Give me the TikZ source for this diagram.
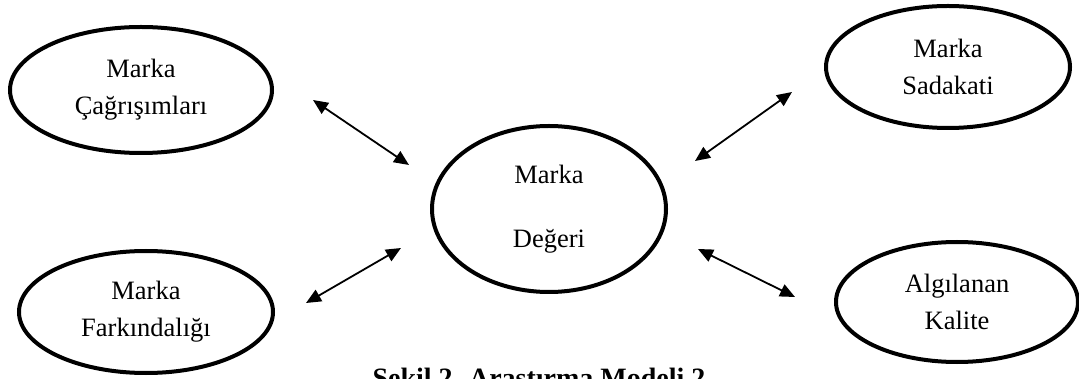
\documentclass[tikz,border=0pt]{standalone}
\usepackage{fontspec}
\setmainfont{Liberation Serif}
\usetikzlibrary{shapes.geometric,arrows.meta}
\begin{document}
\begin{tikzpicture}[x=1pt,y=-1pt,
  oval/.style={draw,ellipse,line width=4pt,inner sep=0pt,align=center,
    font=\fontsize{26.5}{37}\selectfont},
  link/.style={line width=1.8pt,{Triangle[length=15pt,width=13pt]}-{Triangle[length=15pt,width=13pt]}}]
\useasboundingbox (0,0) rectangle (1079,379);
\clip (0,0) rectangle (1079,379);
\node[oval,minimum width=262pt,minimum height=126pt] (cag) at (141,90) {Marka\\Çağrışımları};
\node[oval,minimum width=234pt,minimum height=166pt] (deg) at (549,209) {Marka\\[27pt]Değeri};
\node[oval,minimum width=244pt,minimum height=122pt] (sad) at (948,67) {Marka\\Sadakati};
\node[oval,minimum width=254pt,minimum height=122pt] (far) at (146,312) {Marka\\Farkındalığı};
\node[oval,minimum width=242pt,minimum height=120pt] (kal) at (957,302) {Algılanan\\Kalite};
\coordinate (a1) at (313,100); \coordinate (a2) at (409,165);
\coordinate (b1) at (306,303); \coordinate (b2) at (401,248);
\coordinate (c1) at (695,161); \coordinate (c2) at (792,92);
\coordinate (d1) at (698,249); \coordinate (d2) at (795,297);
\draw[link] (a1) -- (a2);
\draw[link] (b1) -- (b2);
\draw[link] (c1) -- (c2);
\draw[link] (d1) -- (d2);
\node[anchor=base,inner sep=0pt,font=\fontsize{28}{32}\selectfont\bfseries] (cap) at (539,387) {Şekil 2. Araştırma Modeli 2};
\end{tikzpicture}
\end{document}
